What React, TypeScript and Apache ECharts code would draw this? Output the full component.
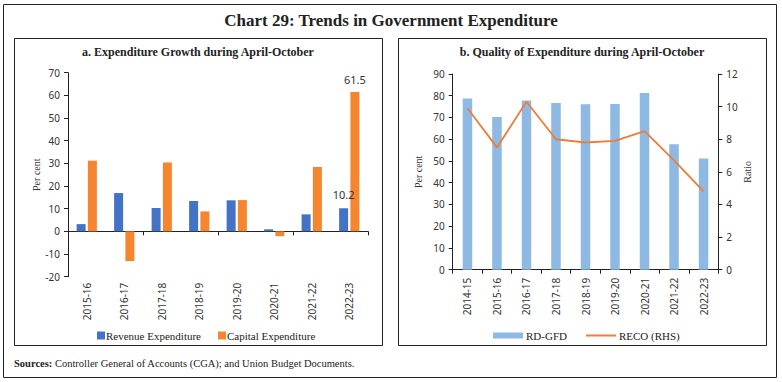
import React, { useEffect, useRef } from "react";
import * as echarts from "echarts";

const yearsA = ["2015-16", "2016-17", "2017-18", "2018-19", "2019-20", "2020-21", "2021-22", "2022-23"];
const revenueExp = [3.2, 16.9, 10.3, 13.4, 13.7, 0.9, 7.5, 10.2];
const capitalExp = [31.2, -13.1, 30.4, 8.8, 13.8, -2.1, 28.4, 61.5];

const yearsB = ["2014-15", "2015-16", "2016-17", "2017-18", "2018-19", "2019-20", "2020-21", "2021-22", "2022-23"];
const rdGfd = [78.7, 70.2, 77.8, 76.7, 76.1, 76.2, 81.3, 57.7, 51.1];
const reco = [9.9, 7.5, 10.3, 8.0, 7.8, 7.9, 8.5, 6.7, 4.8];

const SANS = "'Noto Sans', sans-serif";
const SERIF = "'Liberation Serif', serif";
const AX = "#333";

export default function App() {
  const ref = useRef<HTMLDivElement>(null);
  useEffect(() => {
    document.body.style.margin = "0";
    const chart = echarts.init(ref.current!, undefined, { renderer: "svg" });
    const lastIdx = yearsA.length - 1;
    const axisLabel = { color: AX, fontFamily: SANS, fontSize: 10 };
    const option: any = {
      animation: false,
      backgroundColor: "#fff",
      graphic: [
        { type: "rect", shape: { x: 3.5, y: 4.5, width: 773, height: 373 }, style: { fill: "none", stroke: "#222", lineWidth: 1 }, silent: true },
        { type: "rect", shape: { x: 14.5, y: 38.5, width: 368, height: 307 }, style: { fill: "none", stroke: "#222", lineWidth: 1 }, silent: true },
        { type: "rect", shape: { x: 398.5, y: 38.5, width: 368, height: 307 }, style: { fill: "none", stroke: "#222", lineWidth: 1 }, silent: true },
        { type: "text", x: 391, y: 20, style: { text: "Chart 29: Trends in Government Expenditure", fontFamily: SERIF, fontWeight: "bold", fontSize: 17, fill: "#222", textAlign: "center", textVerticalAlign: "middle" } },
        { type: "text", x: 198, y: 52, style: { text: "a. Expenditure Growth during April-October", fontFamily: SERIF, fontWeight: "bold", fontSize: 12, fill: "#222", textAlign: "center", textVerticalAlign: "middle" } },
        { type: "text", x: 582, y: 52, style: { text: "b. Quality of Expenditure during April-October", fontFamily: SERIF, fontWeight: "bold", fontSize: 12, fill: "#222", textAlign: "center", textVerticalAlign: "middle" } },
        {
          type: "text", x: 14, y: 363,
          style: {
            text: "{b|Sources:} Controller General of Accounts (CGA); and Union Budget Documents.",
            fontFamily: SERIF, fontSize: 10.5, fill: "#222", textVerticalAlign: "middle",
            rich: { b: { fontFamily: SERIF, fontSize: 10.5, fontWeight: "bold", fill: "#222" } },
          },
        },
      ],
      legend: [
        {
          data: ["Revenue Expenditure", "Capital Expenditure"],
          left: 92, top: 325, itemWidth: 8, itemHeight: 8, itemGap: 17,
          textStyle: { fontFamily: SERIF, fontSize: 11, color: "#222", padding: [0, 0, 0, -4] },
          icon: "rect",
        },
        {
          data: [
            { name: "RD-GFD", icon: "rect" },
            { name: "RECO (RHS)", icon: "path://M0,0H30V2H0Z" },
          ],
          left: 488, top: 325, itemWidth: 30, itemHeight: 6, itemGap: 19,
          textStyle: { fontFamily: SERIF, fontSize: 11, color: "#222", padding: [0, 0, 0, -2] },
        },
      ],
      grid: [
        { left: 68, right: 414, top: 72.7, bottom: 105.3 },
        { left: 452.7, right: 63.7, top: 74, bottom: 112.3 },
      ],
      xAxis: [
        {
          type: "category", data: yearsA, gridIndex: 0, position: "bottom",
          axisLine: { onZero: true, lineStyle: { color: "#222" } },
          axisTick: { show: true, length: 4, lineStyle: { color: "#222" } },
          axisLabel: { show: false },
        },
        {
          type: "category", data: yearsA, gridIndex: 0, position: "bottom",
          axisLine: { show: false, onZero: false }, axisTick: { show: false },
          axisLabel: { ...axisLabel, rotate: 90, margin: 6 },
        },
        {
          type: "category", data: yearsB, gridIndex: 1,
          axisLine: { lineStyle: { color: "#222" } },
          axisTick: { show: true, length: 4, lineStyle: { color: "#222" } },
          axisLabel: { ...axisLabel, rotate: 90, margin: 8 },
        },
      ],
      yAxis: [
        {
          type: "value", gridIndex: 0, min: -20, max: 70, interval: 10,
          name: "Per cent", nameLocation: "middle", nameGap: 26,
          nameTextStyle: { fontFamily: SERIF, fontSize: 10, color: AX },
          axisLine: { show: true, lineStyle: { color: "#222" } },
          axisTick: { show: true, length: 4, lineStyle: { color: "#222" } },
          axisLabel: axisLabel, splitLine: { show: false },
        },
        {
          type: "value", gridIndex: 1, min: 0, max: 90, interval: 10,
          name: "Per cent", nameLocation: "middle", nameGap: 29,
          nameTextStyle: { fontFamily: SERIF, fontSize: 10, color: AX },
          axisLine: { show: true, lineStyle: { color: "#222" } },
          axisTick: { show: true, length: 4, lineStyle: { color: "#222" } },
          axisLabel: axisLabel, splitLine: { show: false },
        },
        {
          type: "value", gridIndex: 1, min: 0, max: 12, interval: 2, position: "right",
          name: "Ratio", nameLocation: "middle", nameGap: 24,
          nameTextStyle: { fontFamily: SERIF, fontSize: 10, color: AX },
          axisLine: { show: true, lineStyle: { color: "#222" } },
          axisTick: { show: true, length: 4, lineStyle: { color: "#222" } },
          axisLabel: axisLabel, splitLine: { show: false },
        },
      ],
      series: [
        {
          name: "Revenue Expenditure", type: "bar", xAxisIndex: 0, yAxisIndex: 0,
          barWidth: 9, barGap: "25%", itemStyle: { color: "#4472C4" }, z: 2,
          data: revenueExp.map((v, i) => i === lastIdx
            ? { value: v, label: { show: true, position: "top", color: AX, fontFamily: SANS, fontSize: 11, distance: 8 } }
            : v),
        },
        {
          name: "Capital Expenditure", type: "bar", xAxisIndex: 0, yAxisIndex: 0,
          barWidth: 9, barGap: "25%", itemStyle: { color: "#F5862F" }, z: 1,
          data: capitalExp.map((v, i) => i === lastIdx
            ? { value: v, label: { show: true, position: "top", color: AX, fontFamily: SANS, fontSize: 11, distance: 7 } }
            : v),
        },
        {
          name: "RD-GFD", type: "bar", xAxisIndex: 2, yAxisIndex: 1,
          barWidth: 9.5, itemStyle: { color: "#8DB9E2" }, data: rdGfd,
        },
        {
          name: "RECO (RHS)", type: "line", xAxisIndex: 2, yAxisIndex: 2,
          symbol: "none", lineStyle: { color: "#F07D35", width: 1.8 },
          itemStyle: { color: "#F07D35" }, data: reco,
        },
      ],
    };
    chart.setOption(option);
    return () => chart.dispose();
  }, []);
  return <div ref={ref} style={{ position: "fixed", left: 0, top: 0, width: 782, height: 382 }} />;
}
